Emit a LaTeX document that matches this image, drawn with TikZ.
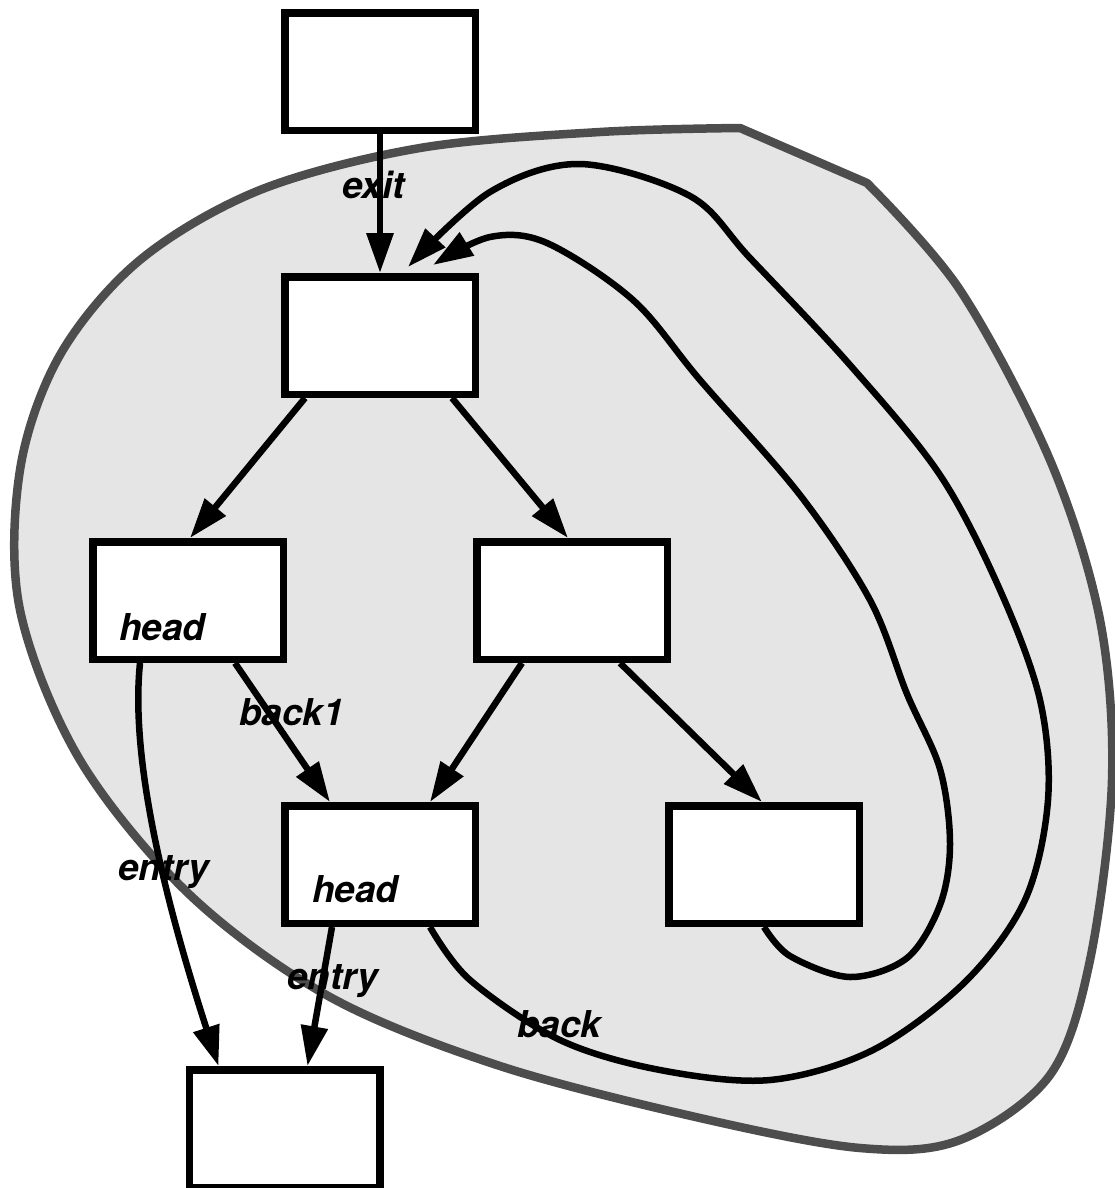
\documentclass[tikz,border=0pt]{standalone}
\usepackage{fontspec}
\newfontfamily\lblfont{TeX Gyre Heros}
\usetikzlibrary{arrows.meta,calc}
\definecolor{blobfill}{RGB}{229,229,229}
\definecolor{blobline}{RGB}{77,77,77}
\begin{document}
\begin{tikzpicture}[x=1pt,y=-1pt,
  box/.style={draw=black, fill=white, line width=7.5pt, minimum width=190.5pt, minimum height=117.5pt, inner sep=0pt},
  arr/.style={draw=black, line width=6.5pt, line join=round, -{Triangle[length=40pt,width=26pt]}},
  lbl/.style={font=\lblfont\bfseries\itshape\fontsize{37}{40}\selectfont, inner sep=0pt, anchor=base west},
  blob/.style={draw=blobline, fill=blobfill, line width=8.5pt, line join=round}]
\useasboundingbox (0,0) rectangle (1114,1188);

% region
\draw[blob] (740,128) -- (867,183) -- plot[smooth, tension=0.55] coordinates {(867,183) (960,290) (1050,460) (1100,620) (1112,780) (1090,960) (1050,1075) (960,1140) (860,1148) (700,1118) (500,1066) (330,997) (190,895) (80,760) (20,610) (20,470) (60,355) (140,260) (260,190) (420,148) (600,132) (740,128)} -- cycle;

% boxes
\node[box] (A) at (380,72) {};
\node[box] (B) at (380,335.5) {};
\node[box] (C) at (188,600.5) {};
\node[box] (D) at (572,600.5) {};
\node[box] (E) at (380,864.5) {};
\node[box] (F) at (764,864.5) {};
\node[box] (G) at (284.5,1128.5) {};

% connector ends
\coordinate (eb) at ($(E.south)+(50,0)$);
\coordinate (bb1) at ($(B.north)+(28,-6)$);
\coordinate (fb) at (F.south);
\coordinate (bb2) at ($(B.north)+(53,-8)$);

% straight connectors
\draw[arr] (A.south) -- (B.north);
\draw[arr] ($(B.south)+(-75,0)$) -- ($(C.north)+(2,0)$);
\draw[arr] ($(B.south)+(72,0)$) -- ($(D.north)+(-4,0)$);
\draw[arr] ($(C.south)+(47,0)$) -- ($(E.north)+(-50,0)$);
\draw[arr] ($(D.south)+(-50,0)$) -- ($(E.north)+(50,0)$);
\draw[arr] ($(D.south)+(48,0)$) -- ($(F.north)+(-2,0)$);
\draw[arr] ($(C.south)+(-48,0)$) .. controls (130,760) and (165,900) .. ($(G.north west)+(33,0)$);
\draw[arr] ($(E.south)+(-48,0)$) -- ($(G.north)+(23,0)$);

% back edges
\draw[arr] plot[smooth, tension=0.55] coordinates {(eb) (470,980) (560,1040) (660,1070) (770,1080) (873,1050) (965,982) (1025,900) (1048,800) (1040,700) (1000,590) (940,475) (850,365) (750,258) (690,196) (580,164) (490,192) (bb1)};
\draw[arr] plot[smooth, tension=0.55] coordinates {(fb) (790,956) (850,977) (907,958) (940,905) (950,844) (940,769) (907,694) (870,600) (800,495) (700,380) (633,300) (547,243) (490,237) (bb2)};

% labels
\node[lbl] (lexit) at (342,198) {exit};
\node[lbl] (lhead1) at (119,640) {head};
\node[lbl] (lhead2) at (312,902) {head};
\node[lbl] (lback1) at (239,725) {back1};
\node[lbl] (lentry1) at (118,880) {entry};
\node[lbl] (lentry2) at (287,989) {entry};
\node[lbl] (lback) at (517,1037) {back};
\end{tikzpicture}
\end{document}
